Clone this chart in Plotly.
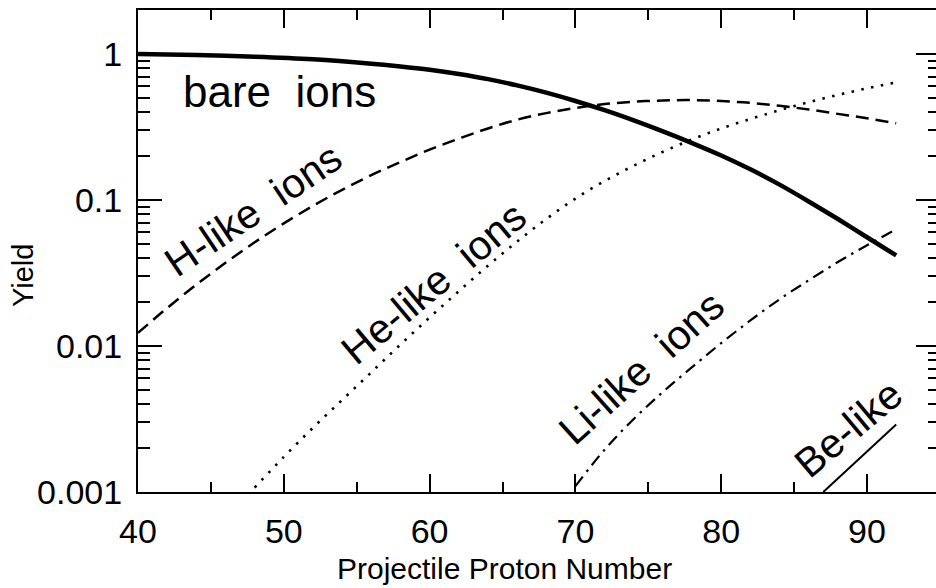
import plotly.graph_objects as go

# ---------------- data ----------------
bare_z = [40, 44, 48, 52, 56, 58, 60, 62, 64, 66, 68, 70, 72, 74, 76, 78, 80, 82, 84, 86, 88, 90, 92]
bare_y = [1.0, 0.9863, 0.9594, 0.9204, 0.859, 0.8222, 0.7798, 0.7295, 0.673, 0.6095, 0.5433,
          0.4764, 0.4121, 0.3508, 0.2951, 0.2455, 0.2018, 0.1622, 0.1274, 0.0977, 0.0741,
          0.0556, 0.0417]

h_z = [40, 42, 44, 46, 48, 50, 52, 54, 56, 58, 60, 62, 64, 66, 68, 70, 72, 74, 76, 78, 80, 82, 84, 86, 88, 90, 92]
h_y = [0.0123, 0.0182, 0.0263, 0.03715, 0.05129, 0.06918, 0.0912, 0.1175, 0.1479, 0.182, 0.2213,
       0.263, 0.309, 0.3548, 0.3936, 0.4266, 0.4539, 0.471, 0.4808, 0.4831, 0.4764, 0.4624, 0.4416,
       0.4169, 0.389, 0.3631, 0.335]

he_z = [48, 50, 52, 54, 56, 58, 60, 62, 64, 66, 68, 70, 72, 74, 76, 78, 80, 82, 84, 86, 88, 90, 92]
he_y = [0.001072, 0.001738, 0.002754, 0.004266, 0.006607, 0.01023, 0.01567, 0.02371, 0.03548,
        0.05188, 0.07413, 0.1023, 0.1349, 0.1718, 0.2138, 0.26, 0.309, 0.3589, 0.4121, 0.4677,
        0.5248, 0.5821, 0.6383]

li_z = [70, 72, 74, 76, 78, 80, 82, 84, 86, 88, 90, 92]
li_y = [0.001096, 0.00195, 0.003162, 0.004842, 0.007161, 0.01047, 0.01496, 0.02089, 0.02818,
        0.03758, 0.04898, 0.0631]

be_z = [87, 92]
be_y = [0.0010, 0.0029]

x_ticks = [40, 50, 60, 70, 80, 90]
y_ticks = [0.001, 0.01, 0.1, 1]
y_tick_text = ["0.001", "0.01", "0.1", "1"]
y_minor = [m * 10.0 ** e for e in (-3, -2, -1, 0) for m in range(2, 10)]

labels = ["bare ions", "H-like ions", "He-like ions", "Li-like ions", "Be-like"]
x_title = "Projectile Proton Number"
y_title = "Yield"

# ---------------- figure ----------------
FONT = "Liberation Sans, Arial, sans-serif"
fig = go.Figure()

fig.add_trace(go.Scatter(x=bare_z, y=bare_y, mode="lines", line=dict(color="black", width=4.5, shape="spline", smoothing=0.8)))
fig.add_trace(go.Scatter(x=h_z, y=h_y, mode="lines", line=dict(color="black", width=2.5, dash="13px,7px", shape="spline")))
fig.add_trace(go.Scatter(x=he_z, y=he_y, mode="lines", line=dict(color="black", width=2.6, dash="2.5px,7.5px", shape="spline")))
fig.add_trace(go.Scatter(x=li_z, y=li_y, mode="lines", line=dict(color="black", width=2.2, dash="12px,6px,2.5px,6px", shape="spline")))
fig.add_trace(go.Scatter(x=be_z, y=be_y, mode="lines", line=dict(color="black", width=2)))
# invisible trace to carry the right-hand tick axis
fig.add_trace(go.Scatter(x=[40], y=[1], mode="markers", marker=dict(opacity=0), yaxis="y2", hoverinfo="skip"))

tickfont = dict(family=FONT, size=34, color="black")

fig.update_layout(
    width=936, height=588,
    margin=dict(l=138, r=0, t=10, b=96),
    paper_bgcolor="white", plot_bgcolor="white",
    showlegend=False,
    xaxis=dict(
        range=[40, 94.73], showline=True, linewidth=2, linecolor="black",
        mirror="ticks", showgrid=False, zeroline=False,
        tickmode="array", tickvals=x_ticks, ticks="inside", ticklen=18, tickwidth=2,
        tickcolor="black", tickfont=tickfont, ticklabelstandoff=8,
        minor=dict(dtick=5, tick0=40, ticks="inside", ticklen=10, tickwidth=2, tickcolor="black", showgrid=False),
    ),
    yaxis=dict(
        type="log", range=[-3, 0.3014], showline=True, linewidth=2, linecolor="black",
        mirror=False, showgrid=False, zeroline=False,
        tickmode="array", tickvals=y_ticks, ticktext=y_tick_text,
        ticks="inside", ticklen=24, tickwidth=2, tickcolor="black",
        tickfont=tickfont, ticklabelstandoff=7,
        minor=dict(tickmode="array", tickvals=y_minor, ticks="inside", ticklen=12,
                   tickwidth=2, tickcolor="black", showgrid=False),
    ),
    yaxis2=dict(
        type="log", range=[-3, 0.3014], overlaying="y", side="right",
        showline=False, showgrid=False, zeroline=False, showticklabels=False,
        tickmode="array", tickvals=y_ticks, ticks="inside", ticklen=20, tickwidth=2, tickcolor="black",
        minor=dict(tickmode="array", tickvals=y_minor, ticks="inside", ticklen=8,
                   tickwidth=2, tickcolor="black", showgrid=False),
    ),
)

big_font = dict(family=FONT, size=44, color="black")
rot_font = dict(family=FONT, size=41, color="black")
ann = [
    dict(text=labels[0].replace(" ", "\u00a0\u00a0"), x=49.7, y=-0.26, textangle=0, font=big_font),
    dict(text=labels[1].replace(" ", "\u00a0\u00a0"), x=47.9, y=-1.07, textangle=-34, font=rot_font),
    dict(text=labels[2].replace(" ", "\u00a0\u00a0"), x=60.3, y=-1.57, textangle=-40, font=rot_font),
    dict(text=labels[3].replace(" ", "\u00a0\u00a0"), x=74.5, y=-2.15, textangle=-42, font=rot_font),
    dict(text=labels[4], x=88.7, y=-2.57, textangle=-40, font=rot_font),
]
for a in ann:
    fig.add_annotation(xref="x", yref="y", showarrow=False,
                       xanchor="center", yanchor="middle", **a)

fig.add_annotation(text=x_title, xref="paper", yref="paper", x=(504 - 138) / 798, y=(492 - 569) / 482,
                   showarrow=False, xanchor="center", yanchor="middle",
                   font=dict(family=FONT, size=30, color="black"))
fig.add_annotation(text=y_title, xref="paper", yref="paper", x=(23 - 138) / 798, y=(492 - 276) / 482,
                   showarrow=False, xanchor="center", yanchor="middle", textangle=-90,
                   font=dict(family=FONT, size=29, color="black"))

fig.write_html("out.html")
